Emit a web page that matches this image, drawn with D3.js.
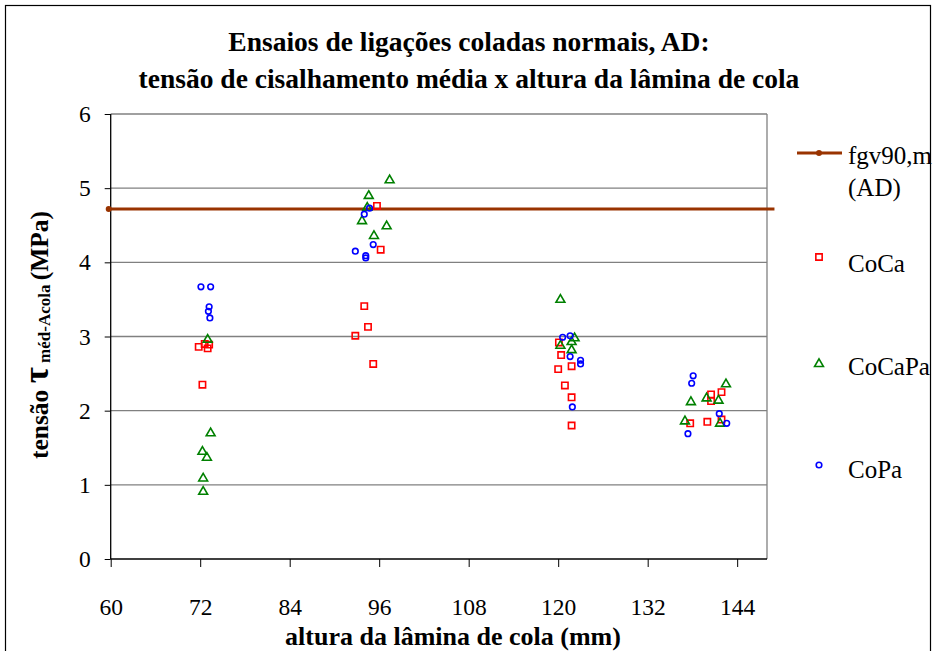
<!DOCTYPE html>
<html><head><meta charset="utf-8">
<script src="https://cdn.jsdelivr.net/npm/d3@7"></script>
<style>body{margin:0;background:#fff}svg{display:block}text{font-family:"Liberation Serif","Times New Roman",serif}</style>
</head><body><svg id="c" width="936" height="651"></svg>
<script>
const titleLines = ["Ensaios de ligações coladas normais, AD:", "tensão de cisalhamento média x altura da lâmina de cola"];
const xTicks = [60, 72, 84, 96, 108, 120, 132, 144];
const yTicks = [0, 1, 2, 3, 4, 5, 6];
const seriesNames = ["fgv90,m (AD)", "CoCa", "CoCaPa", "CoPa"];
const fgvLine = [[60, 4.72], [149, 4.72]];
const coca = [[71.8,2.86],[72.6,2.90],[73.2,2.89],[73.0,2.84],[72.3,2.35],
  [95.7,4.76],[96.2,4.17],[94.0,3.41],[94.5,3.13],[92.8,3.01],[95.2,2.63],
  [120.1,2.92],[120.4,2.75],[121.8,2.60],[120.0,2.56],[120.9,2.34],[121.8,2.18],[121.8,1.80],
  [141.9,2.25],[140.5,2.22],[140.5,2.13],[137.7,1.83],[140.0,1.85],[141.9,1.88]];
const cocapa = [[73.0,2.97],[73.4,1.71],[72.3,1.46],[72.9,1.38],[72.4,1.10],[72.4,0.92],
  [97.4,5.12],[94.6,4.91],[94.4,4.75],[93.7,4.57],[97.0,4.50],[95.3,4.37],
  [120.3,3.51],[122.2,2.99],[121.8,2.94],[120.3,2.89],[121.8,2.83],
  [142.5,2.37],[137.8,2.13],[139.9,2.18],[141.5,2.15],[137.0,1.87],[141.7,1.84]];
const copa = [[72.1,3.67],[73.4,3.67],[73.2,3.40],[73.1,3.34],[73.3,3.25],
  [94.7,4.73],[94.0,4.65],[95.2,4.24],[92.8,4.15],[94.2,4.09],[94.2,4.06],
  [120.6,2.99],[121.6,3.01],[121.6,2.73],[123.0,2.68],[123.0,2.63],[121.9,2.05],
  [138.1,2.47],[137.9,2.37],[141.6,1.96],[142.6,1.83],[137.4,1.69]];

const svg = d3.select("#c");
const L = 110.7, R = 767, T = 114, B = 559;
const x = d3.scaleLinear().domain([60, 148]).range([L, R]);
const y = d3.scaleLinear().domain([0, 6]).range([B, T]);

// outer frame
svg.append("rect").attr("x", 5.5).attr("y", 5.5).attr("width", 925).attr("height", 660)
  .attr("fill", "none").attr("stroke", "#000").attr("stroke-width", 1.2);

// title
svg.append("g").selectAll("text").data(titleLines).join("text")
  .attr("x", 469).attr("y", (d, i) => 51 + i * 37)
  .attr("text-anchor", "middle").attr("font-weight", "bold").attr("font-size", 27.5)
  .text(d => d);

// gridlines
svg.append("g").selectAll("line").data(yTicks.filter(t => t > 0)).join("line")
  .attr("x1", L).attr("x2", R).attr("y1", d => y(d)).attr("y2", d => y(d))
  .attr("stroke", "#808080").attr("stroke-width", 1.3);
// right border
svg.append("line").attr("x1", R).attr("x2", R).attr("y1", T).attr("y2", B)
  .attr("stroke", "#808080").attr("stroke-width", 1.3);

// axes
const yAxis = svg.append("g").attr("transform", `translate(${L},0)`)
  .call(d3.axisLeft(y).tickValues(yTicks).tickSize(6).tickPadding(14).tickFormat(d3.format("d")));
const xAxis = svg.append("g").attr("transform", `translate(0,${B})`)
  .call(d3.axisBottom(x).tickValues(xTicks).tickSize(8).tickPadding(31).tickFormat(d3.format("d")));
[yAxis, xAxis].forEach(a => {
  a.select(".domain").attr("stroke", "#000").attr("stroke-width", 1.3);
  a.selectAll(".tick line").attr("stroke", "#000").attr("stroke-width", 1);
  a.selectAll(".tick text").attr("font-size", 23.5).attr("font-family", "Liberation Serif").attr("fill", "#000");
});
xAxis.select(".domain").attr("d", `M${L},0H${R}`);
yAxis.select(".domain").attr("d", `M0,${T}V${B}`);

// axis titles
svg.append("text").attr("x", 453).attr("y", 645).attr("text-anchor", "middle")
  .attr("font-weight", "bold").attr("font-size", 26).text("altura da lâmina de cola (mm)");
const yt = svg.append("text").attr("transform", "translate(48,335) rotate(-90)")
  .attr("text-anchor", "middle").attr("font-weight", "bold").attr("font-size", 25.5);
yt.append("tspan").text("tensão ");
yt.append("tspan").attr("font-size", 35).text("τ");
yt.append("tspan").attr("font-size", 17).attr("dy", 2).text(" méd-Acola ");
yt.append("tspan").attr("dy", -2).text("(MPa)");

// fgv line
const brown = "#993300";
svg.append("path").datum(fgvLine)
  .attr("d", d3.line().x(d => x(d[0])).y(d => y(d[1])))
  .attr("stroke", brown).attr("stroke-width", 3).attr("fill", "none");
svg.append("circle").attr("cx", x(fgvLine[0][0]) - 2).attr("cy", y(fgvLine[0][1])).attr("r", 3).attr("fill", brown);

// markers
const sq = d3.symbol().type(d3.symbolSquare).size(40);
const tri = d3.symbol().type(d3.symbolTriangle).size(34);
function draw(data, gen, color, dy) {
  svg.append("g").selectAll("path").data(data).join("path")
    .attr("d", gen)
    .attr("transform", d => `translate(${x(d[0])},${y(d[1]) + dy})`)
    .attr("fill", "none").attr("stroke", color).attr("stroke-width", 1.6);
}
draw(coca, sq(), "#ff0000", 0);
draw(cocapa, tri(), "#008000", 1);
svg.append("g").selectAll("circle").data(copa).join("circle")
  .attr("cx", d => x(d[0])).attr("cy", d => y(d[1])).attr("r", 2.8)
  .attr("fill", "none").attr("stroke", "#0000ff").attr("stroke-width", 1.6);

// legend
const lg = svg.append("g");
const lfs = 25;
lg.append("line").attr("x1", 797).attr("x2", 842).attr("y1", 153).attr("y2", 153)
  .attr("stroke", brown).attr("stroke-width", 3);
lg.append("circle").attr("cx", 819).attr("cy", 153).attr("r", 3).attr("fill", brown);
lg.append("text").attr("x", 848).attr("y", 164).attr("font-size", lfs).text("fgv90,m");
lg.append("text").attr("x", 848).attr("y", 196).attr("font-size", lfs).text("(AD)");
lg.append("path").attr("d", sq()).attr("transform", "translate(819,257)")
  .attr("fill", "none").attr("stroke", "#ff0000").attr("stroke-width", 1.6);
lg.append("text").attr("x", 848).attr("y", 272).attr("font-size", lfs).text(seriesNames[1]);
lg.append("path").attr("d", tri()).attr("transform", "translate(819,364)")
  .attr("fill", "none").attr("stroke", "#008000").attr("stroke-width", 1.6);
lg.append("text").attr("x", 848).attr("y", 375).attr("font-size", lfs).text(seriesNames[2]);
lg.append("circle").attr("cx", 819).attr("cy", 465).attr("r", 2.8)
  .attr("fill", "none").attr("stroke", "#0000ff").attr("stroke-width", 1.6);
lg.append("text").attr("x", 848).attr("y", 478).attr("font-size", lfs).text(seriesNames[3]);
</script></body></html>
